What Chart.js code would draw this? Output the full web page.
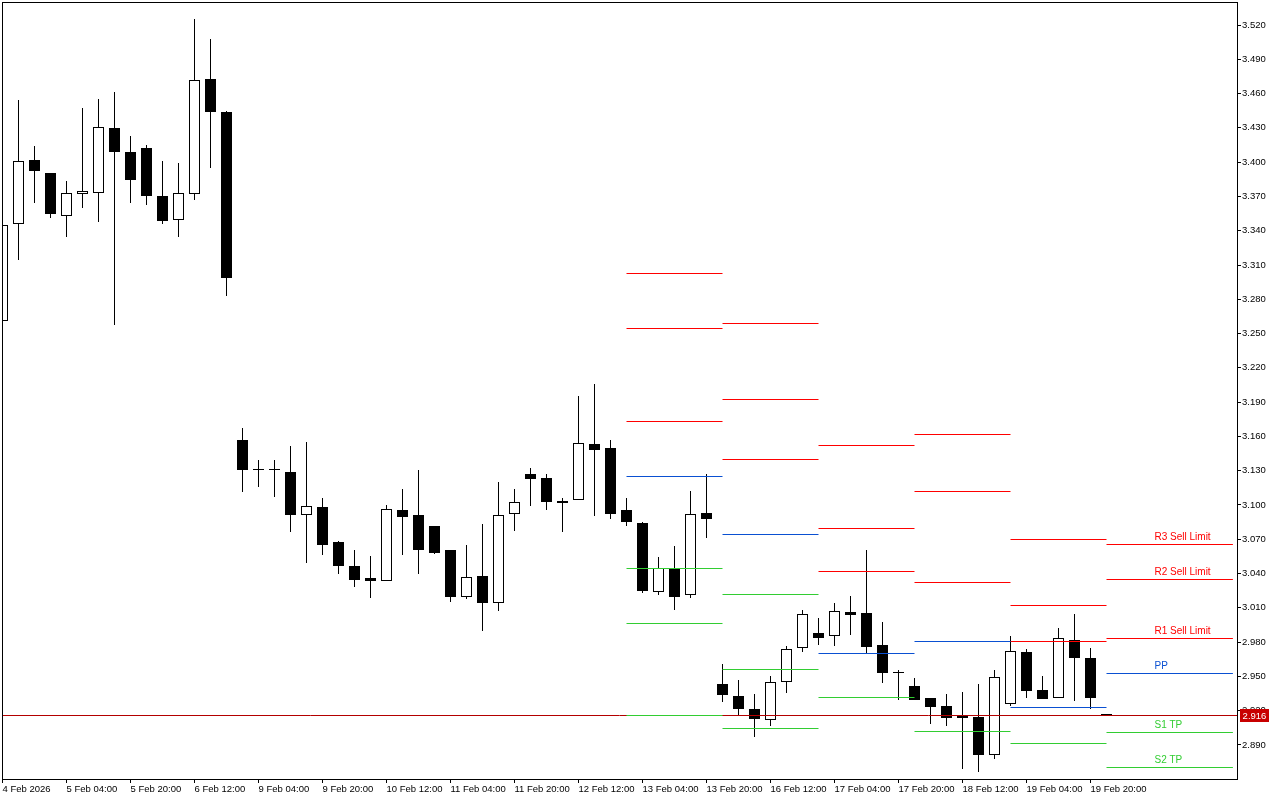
<!DOCTYPE html>
<html>
<head>
<meta charset="utf-8">
<title>Pivot levels H4</title>
<script src="https://cdn.jsdelivr.net/npm/chart.js@4.4.1/dist/chart.umd.min.js"></script>
<style>
  html, body { margin: 0; padding: 0; background: #FFFFFF; }
  canvas { display: block; }
</style>
</head>
<body>
<canvas id="priceChart" width="1280" height="800"></canvas>
<script>
/* ==========================================
   Data (H4 candles, index = bar number)
========================================== */
const opens = [
  3.2610, 3.3456, 3.4019, 3.3905, 3.3526, 3.3719, 3.3727, 3.4299, 3.4089, 3.4124,
  3.3704, 3.3491, 3.3719, 3.4725, 3.4436, 3.1569, 3.1315, 3.1303, 3.1289, 3.0910,
  3.0983, 3.0676, 3.0466, 3.0361, 3.0332, 3.0956, 3.0913, 3.0816, 3.0606, 3.0192,
  3.0379, 3.0140, 3.0919, 3.1271, 3.1236, 3.1033, 3.1041, 3.1534, 3.1499, 3.0956,
  3.0843, 3.0236, 3.0440, 3.0210, 3.0930, 2.9434, 2.9329, 2.9215, 2.9116, 2.9449,
  2.9746, 2.9880, 2.9851, 3.0061, 3.0055, 2.9775, 2.9527, 2.9416, 2.9311, 2.9241,
  2.9154, 2.9145, 2.8810, 2.9256, 2.9711, 2.9381, 2.9309, 2.9819, 2.9661, 2.9160
];
const highs = [
  3.3450, 3.4544, 3.4141, 3.3905, 3.3835, 3.4474, 3.4553, 3.4614, 3.4229, 3.4147,
  3.4010, 3.3993, 3.5253, 3.5078, 3.4445, 3.1674, 3.1394, 3.1394, 3.1516, 3.1551,
  3.1061, 3.0685, 3.0606, 3.0554, 3.1000, 3.1140, 3.1306, 3.0816, 3.0606, 3.0650,
  3.0834, 3.1201, 3.1140, 3.1324, 3.1271, 3.1061, 3.1954, 3.2059, 3.1569, 3.1061,
  3.0851, 3.0545, 3.0641, 3.1122, 3.1271, 2.9609, 2.9469, 2.9349, 2.9504, 2.9766,
  3.0084, 3.0009, 3.0143, 3.0204, 3.0606, 2.9974, 2.9556, 2.9486, 2.9311, 2.9346,
  2.9364, 2.9434, 2.9556, 2.9854, 2.9740, 2.9504, 2.9924, 3.0044, 2.9749, 2.9160
];
const lows = [
  3.2610, 3.3146, 3.3645, 3.3514, 3.3348, 3.3601, 3.3479, 3.2578, 3.3645, 3.3628,
  3.3461, 3.3348, 3.3671, 3.3951, 3.2831, 3.1116, 3.1160, 3.1073, 3.0764, 3.0495,
  3.0565, 3.0399, 3.0285, 3.0189, 3.0332, 3.0565, 3.0399, 3.0574, 3.0154, 3.0180,
  2.9900, 3.0075, 3.0775, 3.0994, 3.0959, 3.0766, 3.1041, 3.0906, 3.0880, 3.0819,
  3.0233, 3.0215, 3.0084, 3.0189, 3.0714, 2.9279, 2.9160, 2.8973, 2.9069, 2.9358,
  2.9716, 2.9778, 2.9766, 2.9865, 2.9702, 2.9445, 2.9297, 2.9297, 2.9087, 2.9069,
  2.8693, 2.8661, 2.8780, 2.9241, 2.9314, 2.9305, 2.9309, 2.9288, 2.9218, 2.9150
];
const closes = [
  3.3450, 3.4007, 3.3925, 3.3549, 3.3727, 3.3745, 3.4305, 3.4091, 3.3846, 3.3706,
  3.3488, 3.3727, 3.4716, 3.4441, 3.2989, 3.1309, 3.1305, 3.1303, 3.0915, 3.0989,
  3.0653, 3.0469, 3.0346, 3.0338, 3.0962, 3.0898, 3.0609, 3.0583, 3.0198, 3.0367,
  3.0145, 3.0910, 3.1024, 3.1230, 3.1029, 3.1020, 3.1540, 3.1484, 3.0924, 3.0854,
  3.0250, 3.0446, 3.0198, 3.0919, 3.0880, 2.9340, 2.9218, 2.9130, 2.9449, 2.9740,
  3.0044, 2.9839, 3.0073, 3.0040, 2.9760, 2.9533, 2.9527, 2.9297, 2.9235, 2.9139,
  2.9139, 2.8815, 2.9495, 2.9720, 2.9375, 2.9305, 2.9834, 2.9664, 2.9314, 2.9160
];

// time axis: one label every 4 bars
const tickIdx = [0, 4, 8, 12, 16, 20, 24, 28, 32, 36, 40, 44, 48, 52, 56, 60, 64, 68];
const tickLabels = [
  "4 Feb 2026", "5 Feb 04:00", "5 Feb 20:00", "6 Feb 12:00", "9 Feb 04:00",
  "9 Feb 20:00", "10 Feb 12:00", "11 Feb 04:00", "11 Feb 20:00", "12 Feb 12:00",
  "13 Feb 04:00", "13 Feb 20:00", "16 Feb 12:00", "17 Feb 04:00", "17 Feb 20:00",
  "18 Feb 12:00", "19 Feb 04:00", "19 Feb 20:00"
];
const priceTicks = [
  3.520, 3.490, 3.460, 3.430, 3.400, 3.370, 3.340, 3.310, 3.280, 3.250, 3.220,
  3.190, 3.160, 3.130, 3.100, 3.070, 3.040, 3.010, 2.980, 2.950, 2.920, 2.890
];

// daily pivot levels (13, 16, 17, 18, 19, 20 Feb)
const pivotStart = [39, 45, 51, 57, 63, 69];
const pivotEnd = [45, 51, 57, 63, 69, 76.9];
const pivotRed = [
  [3.3027, 3.2546, 3.1732],
  [3.2584, 3.1925, 3.1400],
  [3.1522, 3.0796, 3.0420],
  [3.1619, 3.1114, 3.0324],
  [3.0700, 3.0122, 2.9807],
  [3.0656, 3.0350, 2.9834]
];
const pivotBlue = [3.1251, 3.0744, 2.9702, 2.9807, 2.9230, 2.9524];
const pivotGreen = [
  [3.0446, 2.9965, 2.9160],
  [3.0219, 2.9562, 2.9046],
  [2.9317],
  [2.9020],
  [2.8915],
  [2.9011, 2.8705]
];
const levelLabels = ["R3 Sell Limit", "R2 Sell Limit", "R1 Sell Limit", "PP", "S1 TP", "S2 TP"];
const labelIdx = 72;
const currentPrice = 2.916;

/* ==========================================
   Chart setup
========================================== */
const RED = "#FF0000";
const BLUE = "#0A50D2";
const GREEN = "#32CD32";
const BID = "#B40000";
const FONT = '"Liberation Sans", Arial, sans-serif';

const X_MIN = -1 / 32;
const X_MAX = X_MIN + 1235 / 16;
const Y_MAX = 3.520 + 23 / 1142.857;
const Y_MIN = 2.890 - 34 / 1142.857;

const datasets = [];

pivotStart.forEach((s, d) => {
  const e = pivotEnd[d];
  const seg = (v, c) => datasets.push({
    type: "line",
    data: [{ x: s, y: v }, { x: e, y: v }],
    borderColor: c,
    borderWidth: 1,
    pointRadius: 0,
    order: 0
  });
  pivotRed[d].forEach(v => seg(v, RED));
  seg(pivotBlue[d], BLUE);
  pivotGreen[d].forEach(v => seg(v, GREEN));
});

// bid line
datasets.push({
  type: "line",
  data: [{ x: X_MIN, y: currentPrice }, { x: X_MAX, y: currentPrice }],
  borderColor: BID,
  borderWidth: 1,
  pointRadius: 0,
  order: 1
});

// candle bodies
datasets.push({
  type: "bar",
  data: opens.map((o, i) => ({ x: i, y: [o, closes[i]] })),
  backgroundColor: ctx => closes[ctx.dataIndex] > opens[ctx.dataIndex] ? "#FFFFFF" : "#000000",
  borderColor: "#000000",
  borderWidth: 1,
  borderSkipped: false,
  inflateAmount: 0,
  barThickness: 11,
  minBarLength: 1,
  grouped: false,
  order: 2
});

// wicks
datasets.push({
  type: "bar",
  data: highs.map((h, i) => ({ x: i, y: [lows[i], h] })),
  backgroundColor: "#000000",
  borderWidth: 0,
  inflateAmount: 0,
  barThickness: 1,
  grouped: false,
  order: 3
});

// keep the thin lines and candle edges on whole pixels, like the terminal does
const pixelSnap = {
  id: "pixelSnap",
  beforeDatasetsDraw(chart) {
    chart.getSortedVisibleDatasetMetas().forEach(meta => {
      if (meta.type === "line") {
        meta.data.forEach(p => { p.y = Math.floor(p.y) + 0.5; });
        if (meta.dataset) delete meta.dataset._path;
      } else if (meta.type === "bar") {
        meta.data.forEach(b => {
          const diff = Math.abs(b.y - b.base);
          const top = Math.round(b.y);
          let base = Math.round(b.base);
          if (top === base && diff > 0.01) base = top + 1;
          b.y = top;
          b.base = base;
        });
      }
    });
  }
};

const overlay = {
  id: "overlay",
  afterDraw(chart) {
    const { ctx, chartArea: a, scales: { x, y } } = chart;
    ctx.save();

    // level captions on the current day
    const levels = [...pivotRed[5], pivotBlue[5], ...pivotGreen[5]];
    const colors = [RED, RED, RED, BLUE, GREEN, GREEN];
    ctx.font = "10px " + FONT;
    ctx.textAlign = "left";
    ctx.textBaseline = "alphabetic";
    levels.forEach((v, k) => {
      ctx.fillStyle = colors[k];
      ctx.fillText(levelLabels[k], x.getPixelForValue(labelIdx), Math.floor(y.getPixelForValue(v)) - 4);
    });

    // frame
    ctx.strokeStyle = "#000000";
    ctx.lineWidth = 1;
    ctx.strokeRect(a.left + 0.5, a.top + 0.5, a.right - a.left, a.bottom - a.top);

    // bid price box
    const py = Math.floor(y.getPixelForValue(currentPrice));
    ctx.fillStyle = "#C80000";
    ctx.fillRect(a.right + 3, py - 6, 29, 13);
    ctx.fillStyle = "#FFFFFF";
    ctx.font = "9.5px " + FONT;
    ctx.textAlign = "center";
    ctx.textBaseline = "middle";
    ctx.fillText(currentPrice.toFixed(3), a.right + 17.5, py + 1);
    ctx.restore();
  }
};

new Chart(document.getElementById("priceChart"), {
  type: "bar",
  data: { datasets },
  options: {
    responsive: false,
    animation: false,
    layout: { padding: { left: 2, top: 2, right: 0, bottom: 0 } },
    plugins: {
      legend: { display: false },
      tooltip: { enabled: false }
    },
    scales: {
      x: {
        type: "linear",
        min: X_MIN,
        max: X_MAX,
        offset: false,
        border: { display: false },
        grid: { display: true, offset: false, drawOnChartArea: false, drawTicks: true, tickLength: 4, color: "#000000" },
        ticks: {
          align: "start",
          padding: 1,
          color: "#000000",
          font: { family: FONT, size: 9.5 },
          maxRotation: 0,
          minRotation: 0,
          autoSkip: false,
          callback: (v, i) => tickLabels[i]
        },
        afterBuildTicks: s => { s.ticks = tickIdx.map(v => ({ value: v })); },
        afterFit: s => { s.height = 21; s.paddingLeft = 0; s.paddingRight = 0; }
      },
      y: {
        position: "right",
        min: Y_MIN,
        max: Y_MAX,
        border: { display: false },
        grid: { display: true, drawOnChartArea: false, drawTicks: true, tickLength: 4, color: "#000000" },
        ticks: {
          padding: 1,
          color: "#000000",
          font: { family: FONT, size: 9.5 },
          autoSkip: false,
          callback: v => v.toFixed(3)
        },
        afterBuildTicks: s => { s.ticks = priceTicks.map(v => ({ value: v })); },
        afterFit: s => { s.width = 43; s.paddingTop = 0; s.paddingBottom = 0; }
      }
    }
  },
  plugins: [pixelSnap, overlay]
});
</script>
</body>
</html>
